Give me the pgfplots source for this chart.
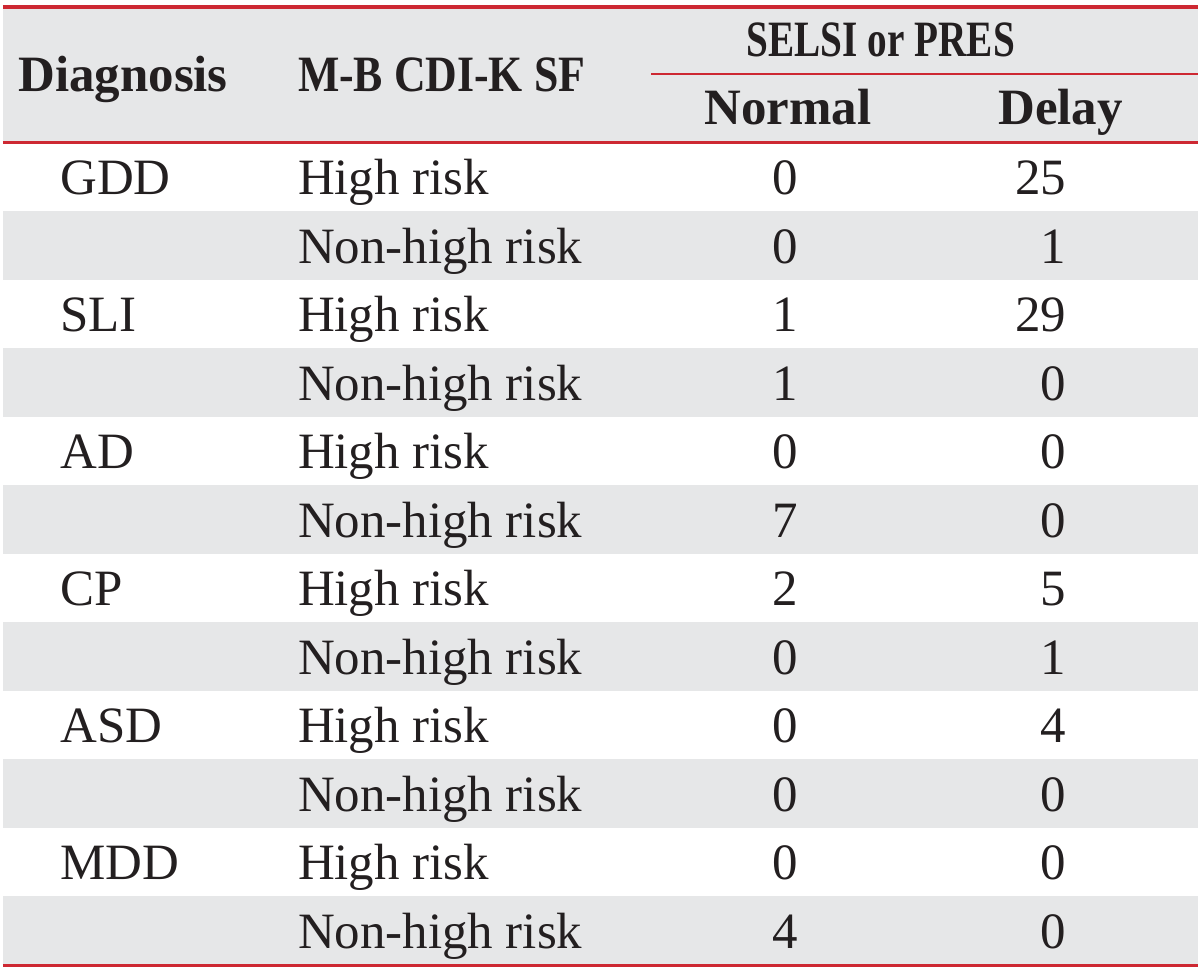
\documentclass[border=0pt]{standalone}
\usepackage{pgfplots}
\pgfplotsset{compat=1.18}
\usepackage{pgfplotstable}
\usepackage{graphicx}
\usepackage{fontspec}
\setmainfont{Liberation Serif}
\definecolor{bandgray}{RGB}{230,231,232}
\definecolor{rulered}{RGB}{205,40,50}
\definecolor{txt}{RGB}{35,31,32}

\pgfplotstableread[col sep=comma]{
row,diag,mb,normal,delay
0,GDD,High risk,0,25
1,,Non-high risk,0,1
2,SLI,High risk,1,29
3,,Non-high risk,1,0
4,AD,High risk,0,0
5,,Non-high risk,7,0
6,CP,High risk,2,5
7,,Non-high risk,0,1
8,ASD,High risk,0,4
9,,Non-high risk,0,0
10,MDD,High risk,0,0
11,,Non-high risk,4,0
}\datatable

\begin{document}
\fontsize{25.5}{30}\selectfont
\begin{tikzpicture}
\begin{axis}[
  width=600pt, height=485.5pt, scale only axis,
  xmin=0, xmax=1200, ymin=0, ymax=971, y dir=reverse,
  axis lines=none, ticks=none, clip=false,
  every node near coord/.append style={font=\fontsize{25.5}{30}\selectfont, inner sep=0pt, text=txt},
]
% invisible frame for bounding box
\addplot[draw=none, mark=none] coordinates {(0,0) (1200,971)};
% header band
\addplot[fill=bandgray, draw=none, mark=none] coordinates {(3,8) (1200,8) (1200,143) (3,143)};
% striped rows (odd rows)
\addplot[fill=bandgray, draw=none, mark=none] coordinates {(3,211.6) (1200,211.6) (1200,280.2) (3,280.2)};
\addplot[fill=bandgray, draw=none, mark=none] coordinates {(3,348.7) (1200,348.7) (1200,417.3) (3,417.3)};
\addplot[fill=bandgray, draw=none, mark=none] coordinates {(3,485.9) (1200,485.9) (1200,554.5) (3,554.5)};
\addplot[fill=bandgray, draw=none, mark=none] coordinates {(3,623.1) (1200,623.1) (1200,691.7) (3,691.7)};
\addplot[fill=bandgray, draw=none, mark=none] coordinates {(3,760.2) (1200,760.2) (1200,828.8) (3,828.8)};
\addplot[fill=bandgray, draw=none, mark=none] coordinates {(3,897.4) (1200,897.4) (1200,966) (3,966)};
% rules
\addplot[rulered, line width=1.6pt, mark=none] coordinates {(3,7) (1200,7)};
\addplot[rulered, line width=1.3pt, mark=none] coordinates {(652,74) (1200,74)};
\addplot[rulered, line width=1.6pt, mark=none] coordinates {(3,143) (1200,143)};
\addplot[rulered, line width=1.6pt, mark=none] coordinates {(3,967) (1200,967)};
% body text
\addplot[draw=none, mark=none, nodes near coords, point meta=explicit symbolic,
  nodes near coords style={anchor=base west}]
  table[x expr=60, y expr=195+68.58*\thisrow{row}, meta=diag] {\datatable};
\addplot[draw=none, mark=none, nodes near coords, point meta=explicit symbolic,
  nodes near coords style={anchor=base west}]
  table[x expr=298, y expr=195+68.58*\thisrow{row}, meta=mb] {\datatable};
\addplot[draw=none, mark=none, nodes near coords, point meta=explicit symbolic,
  nodes near coords style={anchor=base}]
  table[x expr=786, y expr=195+68.58*\thisrow{row}, meta=normal] {\datatable};
\addplot[draw=none, mark=none, nodes near coords, point meta=explicit symbolic,
  nodes near coords style={anchor=base east}]
  table[x expr=1068, y expr=195+68.58*\thisrow{row}, meta=delay] {\datatable};
% header text
\node[anchor=base west, inner sep=0pt, text=txt, font=\bfseries] at (axis cs:18,92) {Diagnosis};
\node[anchor=base west, inner sep=0pt, text=txt, font=\bfseries] at (axis cs:298,92) {\scalebox{0.86}[1]{M-B CDI-K SF}};
\node[anchor=base, inner sep=0pt, text=txt, font=\bfseries] at (axis cs:882,57) {\scalebox{0.77}[1]{SELSI or PRES}};
\node[anchor=base, inner sep=0pt, text=txt, font=\bfseries] at (axis cs:789,125) {Normal};
\node[anchor=base, inner sep=0pt, text=txt, font=\bfseries] at (axis cs:1062,125) {Delay};
\end{axis}
\end{tikzpicture}
\end{document}
